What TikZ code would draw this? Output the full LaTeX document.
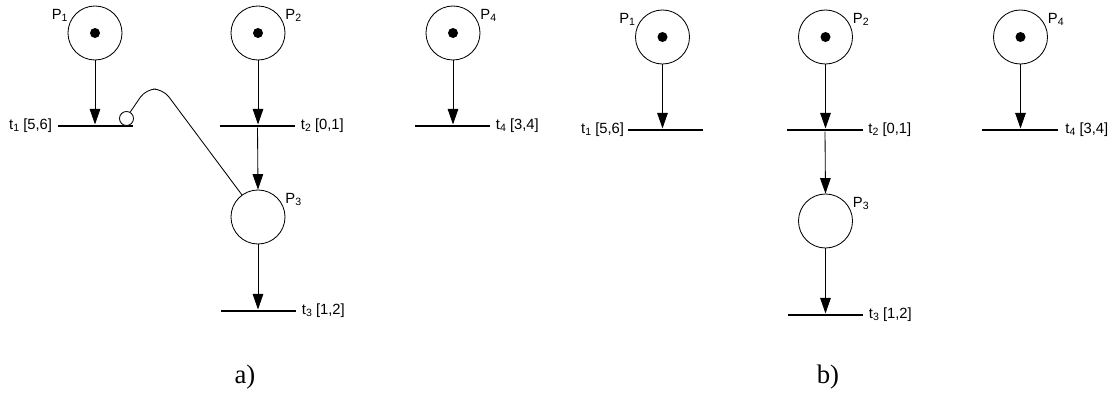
\documentclass[tikz,border=0pt]{standalone}
\usepackage{fontspec}
\setmainfont{Liberation Serif}
\newfontfamily\netfont{Liberation Sans}
\usetikzlibrary{arrows.meta,positioning}

\newcommand\nsub[1]{\raisebox{-0.25ex}{\fontsize{7.5}{8}\selectfont #1}}

\tikzset{
  place/.style={circle,draw,line width=0.6pt,minimum size=1.35cm,inner sep=0pt},
  token/.style={circle,fill=black,minimum size=0.25cm,inner sep=0pt},
  trans/.style={fill=black,minimum width=1.875cm,minimum height=1.8pt,inner sep=0pt},
  inhib/.style={circle,draw,fill=white,line width=0.6pt,minimum size=0.35cm,inner sep=0pt},
  netlabel/.style={font=\netfont\fontsize{10.5}{12}\selectfont,inner sep=1pt},
  caption/.style={font=\fontsize{19}{22}\selectfont},
  arc/.style={->,line width=0.6pt}
}

\begin{document}
\begin{tikzpicture}[x=0.025cm, y=-0.025cm, >={Triangle[length=11pt,width=7.5pt]}]
  \useasboundingbox (0,0) rectangle (1120,395);
  %% a) with inhibitor arc
  \begin{scope}[name prefix=a-]
    \node[place] (P1) at (95,33) {};
    \node[place] (P2) at (258,33) {};
    \node[place] (P3) at (258,217) {};
    \node[place] (P4) at (453,33) {};
    \node[token] (k1) at (P1) {};
    \node[token] (k2) at (P2) {};
    \node[token] (k4) at (P4) {};
    \node[trans] (t1) at (95.5,126) {};
    \node[trans] (t2) at (257.5,126) {};
    \node[trans] (t3) at (258.5,311) {};
    \node[trans] (t4) at (452.5,126) {};
    \node[netlabel,anchor=south east] (lP1) at (P1.160) {P\nsub{1}};
    \node[netlabel,anchor=south west] (lP2) at (P2.20) {P\nsub{2}};
    \node[netlabel,anchor=south west] (lP3) at (P3.20) {P\nsub{3}};
    \node[netlabel,anchor=south west] (lP4) at (P4.20) {P\nsub{4}};
    \node[netlabel,left=0.1cm of t1] (lt1) {t\nsub{1} [5,6]};
    \node[netlabel,right=0.1cm of t2] (lt2) {t\nsub{2} [0,1]};
    \node[netlabel,right=0.1cm of t3] (lt3) {t\nsub{3} [1,2]};
    \node[netlabel,right=0.1cm of t4] (lt4) {t\nsub{4} [3,4]};
    \draw[arc] (P1.south) -- (P1.south |- t1.north);
    \draw[arc] (P2.south) -- (P2.south |- t2.north);
    \draw[arc] (t2.south) -- (P3.north);
    \draw[arc] (P3.south) -- (P3.south |- t3.north);
    \draw[arc] (P4.south) -- (P4.south |- t4.north);
    % inhibitor arc from P3 to t1
    \node[inhib] (inh) at (126.5,118.5) {};
    \coordinate (bendR) at (163,89);
    \coordinate (bendL) at (146,89);
    \draw[line width=0.6pt,rounded corners=7pt] (P3.126) -- (bendR) -- (bendL) -- (inh.60);
    \node[caption] (capa) at (245,377) {a)};
  \end{scope}
  %% b) without it
  \begin{scope}[name prefix=b-, shift={(567.5,4)}]
    \node[place] (P1) at (95,33) {};
    \node[place] (P2) at (258,33) {};
    \node[place] (P3) at (258,217) {};
    \node[place] (P4) at (453,33) {};
    \node[token] (k1) at (P1) {};
    \node[token] (k2) at (P2) {};
    \node[token] (k4) at (P4) {};
    \node[trans] (t1) at (98,126) {};
    \node[trans] (t2) at (257.5,126) {};
    \node[trans] (t3) at (258,311) {};
    \node[trans] (t4) at (452.5,126) {};
    \node[netlabel,anchor=south east] (lP1) at (P1.160) {P\nsub{1}};
    \node[netlabel,anchor=south west] (lP2) at (P2.20) {P\nsub{2}};
    \node[netlabel,anchor=south west] (lP3) at (P3.20) {P\nsub{3}};
    \node[netlabel,anchor=south west] (lP4) at (P4.20) {P\nsub{4}};
    \node[netlabel,left=0.05cm of t1] (lt1) {t\nsub{1} [5,6]};
    \node[netlabel,right=0.1cm of t2] (lt2) {t\nsub{2} [0,1]};
    \node[netlabel,right=0.1cm of t3] (lt3) {t\nsub{3} [1,2]};
    \node[netlabel,right=0.15cm of t4] (lt4) {t\nsub{4} [3,4]};
    \draw[arc] (P1.south) -- (P1.south |- t1.north);
    \draw[arc] (P2.south) -- (P2.south |- t2.north);
    \draw[arc] (t2.south) -- (P3.north);
    \draw[arc] (P3.south) -- (P3.south |- t3.north);
    \draw[arc] (P4.south) -- (P4.south |- t4.north);
    \node[caption] (capb) at (260.5,373) {b)};
  \end{scope}
\end{tikzpicture}
\end{document}
